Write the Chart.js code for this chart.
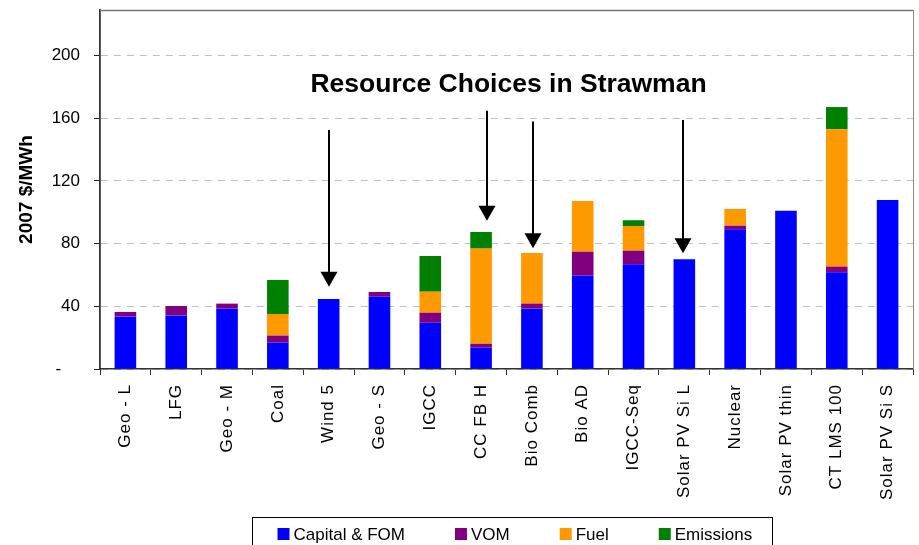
<!DOCTYPE html>
<html>
<head>
<meta charset="utf-8">
<title>Resource Choices in Strawman</title>
<script src="https://cdn.jsdelivr.net/npm/chart.js@4/dist/chart.umd.min.js"></script>
<style>
  html, body { margin: 0; padding: 0; background: #fff; }
  canvas { display: block; }
</style>
</head>
<body>
<canvas id="chart" width="919" height="545"></canvas>
<script>
// Levelized cost components, 2007 $/MWh
const categories = ['Geo - L', 'LFG', 'Geo - M', 'Coal', 'Wind 5', 'Geo - S', 'IGCC', 'CC FB H',
  'Bio Comb', 'Bio AD', 'IGCC-Seq', 'Solar PV Si L', 'Nuclear', 'Solar PV thin', 'CT LMS 100', 'Solar PV Si S'];
const capitalFom = [33.4, 34.2, 38.5, 16.8, 44.7, 46.1, 29.5, 13.6, 38.5, 59.5, 66.8, 70.0, 89.1, 101.0, 61.7, 107.8];
const vom        = [3.0, 6.0, 3.2, 4.5, 0, 3.0, 6.4, 2.5, 3.2, 15.3, 8.7, 0, 2.3, 0, 3.6, 0];
const fuel       = [0, 0, 0, 13.8, 0, 0, 13.4, 60.7, 32.3, 32.4, 15.7, 0, 10.7, 0, 87.6, 0];
const emissions  = [0, 0, 0, 21.7, 0, 0, 22.8, 10.6, 0, 0, 3.7, 0, 0, 0, 14.2, 0];
const seriesNames = ['Capital & FOM', 'VOM', 'Fuel', 'Emissions'];
const yTickValues = [0, 40, 80, 120, 160, 200];
const yAxisTitle = '2007 $/MWh';
const calloutText = 'Resource Choices in Strawman';

// Resources picked for the strawman portfolio, with each arrow's tail and tip on the value axis
const pickedResources = ['Wind 5', 'CC FB H', 'Bio Comb', 'Solar PV Si L'];
const arrowTails = [152.5, 164.7, 157.8, 158.9];
const arrowTips  = [52.5, 94.6, 77.0, 73.8];

const FONT = 'Arial, "Liberation Sans", Helvetica, sans-serif';
Chart.defaults.font.family = FONT;
Chart.defaults.color = '#000';

// Frame along the top and right of the plot area
const plotFrame = {
  id: 'plotFrame',
  afterDraw(chart) {
    const { ctx, chartArea: a } = chart;
    ctx.letterSpacing = '0px';
    ctx.save();
    ctx.strokeStyle = '#7a7a7a';
    ctx.lineWidth = 1.6;
    ctx.beginPath();
    ctx.moveTo(a.left, a.top + 0.5);
    ctx.lineTo(a.right, a.top + 0.5);
    ctx.stroke();
    ctx.lineWidth = 1;
    ctx.strokeStyle = '#8a8a8a';
    ctx.beginPath();
    ctx.moveTo(a.right + 0.5, a.top);
    ctx.lineTo(a.right + 0.5, a.bottom);
    ctx.stroke();
    ctx.restore();
  }
};

// Callout text and arrows pointing at the picked resources
const callouts = {
  id: 'callouts',
  afterDatasetsDraw(chart, args, opts) {
    const { ctx, scales: { x, y } } = chart;
    ctx.save();
    ctx.fillStyle = '#000';
    ctx.strokeStyle = '#000';
    pickedResources.forEach((name, i) => {
      const px = Math.round(x.getPixelForValue(categories.indexOf(name) + opts.shifts[i]));
      const yTail = y.getPixelForValue(arrowTails[i]);
      const yTip = y.getPixelForValue(arrowTips[i]);
      const headH = 15, headW = 17;
      ctx.lineWidth = 2;
      ctx.beginPath();
      ctx.moveTo(px, yTail);
      ctx.lineTo(px, yTip - headH + 1);
      ctx.stroke();
      ctx.beginPath();
      ctx.moveTo(px - headW / 2, yTip - headH);
      ctx.lineTo(px + headW / 2, yTip - headH);
      ctx.lineTo(px, yTip);
      ctx.closePath();
      ctx.fill();
    });
    ctx.font = 'bold 26.5px ' + FONT;
    ctx.textAlign = 'center';
    ctx.textBaseline = 'alphabetic';
    ctx.fillText(calloutText, x.getPixelForValue(opts.textAt), y.getPixelForValue(opts.textValue));
    ctx.restore();
    // category labels (drawn after the bars) use a slightly open letter spacing
    ctx.letterSpacing = '1px';
  }
};

// Boxed legend row under the category labels
const boxedLegend = {
  id: 'boxedLegend',
  afterDraw(chart, args, opts) {
    const { ctx } = chart;
    const items = chart.data.datasets.map(d => ({ text: d.label, color: d.backgroundColor }));
    ctx.save();
    ctx.font = '17px ' + FONT;
    const sq = 12, gapText = 4, gapItem = 50;
    const widths = items.map(it => sq + gapText + ctx.measureText(it.text).width);
    const total = widths.reduce((s, w) => s + w, 0) + gapItem * (items.length - 1);
    const boxW = total + opts.padLeft + opts.padRight;
    const boxLeft = Math.round(opts.centerX - boxW / 2) + 0.5;
    ctx.strokeStyle = '#000';
    ctx.lineWidth = 1;
    ctx.strokeRect(boxLeft, opts.top + 0.5, Math.round(boxW), 40);
    let cx = boxLeft + opts.padLeft;
    ctx.textBaseline = 'middle';
    ctx.textAlign = 'left';
    items.forEach((it, i) => {
      ctx.fillStyle = it.color;
      ctx.fillRect(cx, opts.midY - sq / 2, sq, sq);
      ctx.fillStyle = '#000';
      ctx.fillText(it.text, cx + sq + gapText, opts.midY + 1);
      cx += widths[i] + gapItem;
    });
    ctx.restore();
  }
};

const colors = ['#0000ff', '#800080', '#ff9900', '#008000'];
const series = [capitalFom, vom, fuel, emissions];

new Chart(document.getElementById('chart'), {
  type: 'bar',
  data: {
    labels: categories,
    datasets: series.map((values, i) => ({
      label: seriesNames[i],
      data: values,
      backgroundColor: colors[i],
      borderWidth: 0,
      barPercentage: 0.425,
      categoryPercentage: 1.0
    }))
  },
  options: {
    responsive: false,
    animation: false,
    devicePixelRatio: 1,
    events: [],
    layout: { padding: { top: 10, right: 6, bottom: 0, left: 0 } },
    plugins: {
      legend: { display: false },
      tooltip: { enabled: false },
      callouts: { shifts: [0, 0.11, 0.03, -0.02], textAt: 7.54, textValue: 176.7 },
      boxedLegend: { centerX: 511.5, top: 517, midY: 534, padLeft: 25, padRight: 20 }
    },
    scales: {
      x: {
        stacked: true,
        afterFit(scale) { scale.height = 176; scale.paddingLeft = 0; scale.paddingRight = 0; },
        grid: {
          display: true,
          drawOnChartArea: false,
          offset: true,
          tickLength: 6,
          color: '#333',
          lineWidth: 1
        },
        border: { display: true, color: '#333', width: 1.5 },
        ticks: {
          autoSkip: false,
          minRotation: 90,
          maxRotation: 90,
          padding: 9,
          color: '#000',
          z: 1,
          font: { size: 17 }
        }
      },
      y: {
        stacked: true,
        min: 0,
        max: 229,
        afterFit(scale) { scale.width = 100; scale.paddingTop = 0; scale.paddingBottom = 0; },
        afterBuildTicks(scale) { scale.ticks = yTickValues.map(v => ({ value: v })); },
        grid: {
          color: '#c0c0c0',
          lineWidth: 1,
          tickLength: 6,
          tickColor: '#222',
          tickBorderDash: [],
          borderDash: [7, 6]
        },
        border: { display: true, color: '#333', width: 1.8, dash: [7, 6] },
        ticks: {
          padding: 14,
          color: '#000',
          font: { size: 17 },
          callback: v => (v === 0 ? '-    ' : String(v))
        },
        title: {
          display: true,
          text: yAxisTitle,
          color: '#000',
          font: { size: 19, weight: 'bold' },
          padding: { top: 15.5, bottom: 0 }
        }
      }
    }
  },
  plugins: [plotFrame, callouts, boxedLegend]
});
</script>
</body>
</html>
